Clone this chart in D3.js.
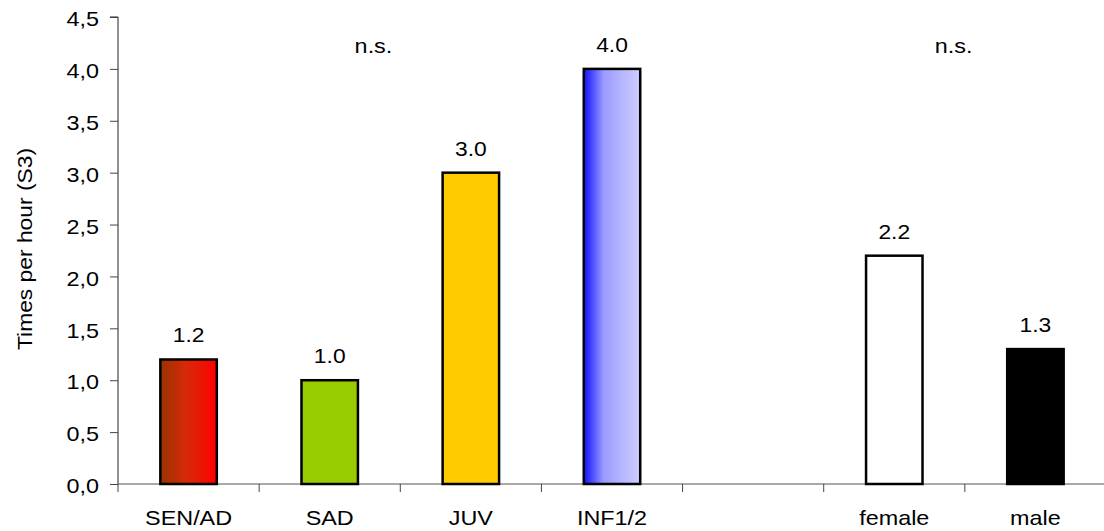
<!DOCTYPE html>
<html><head><meta charset="utf-8">
<script src="https://cdn.jsdelivr.net/npm/d3@7"></script>
<style>body{margin:0;background:#fff}svg{display:block;font-family:Arial,"Liberation Sans",sans-serif}</style>
</head><body><svg id="c" width="1104" height="531"></svg>
<script>
const categories = ["SEN/AD","SAD","JUV","INF1/2","","female","male"];
const values = [1.2, 1.0, 3.0, 4.0, null, 2.2, 1.3];
const valueLabels = ["1.2","1.0","3.0","4.0","","2.2","1.3"];
const yTicks = [0,0.5,1,1.5,2,2.5,3,3.5,4,4.5];
const notes = ["n.s.","n.s."];

const FONT = "Arial, 'Liberation Sans', sans-serif";
const SX = 1.17; // horizontal stretch of the original text
const svg = d3.select("#c");
const m = {left:118, top:17, bottom:484, right:1106};
const x = d3.scaleBand().domain(categories.map((d,i)=>i)).range([m.left, m.right]).paddingInner(0).paddingOuter(0);
const y = d3.scaleLinear().domain([0,4.5]).range([m.bottom, m.top]);

const defs = svg.append("defs");
function grad(id, stops){
  const g = defs.append("linearGradient").attr("id",id).attr("x1","0%").attr("x2","100%").attr("y1","0%").attr("y2","0%");
  stops.forEach(s=>g.append("stop").attr("offset",s[0]).attr("stop-color",s[1]));
}
grad("gRed",[[0,"#993300"],[0.45,"#d62a08"],[1,"#ff0000"]]);
grad("gBlue",[[0,"#1010ff"],[0.35,"#9a9aff"],[0.7,"#b8b8ff"],[1,"#ccccff"]]);
const fills = ["url(#gRed)","#99cc00","#ffcc00","url(#gBlue)","none","#ffffff","#000000"];

function stretched(sel, px, py, rot){
  sel.attr("x",0).attr("y",0)
     .attr("transform",(d,i)=>`translate(${px(d,i)},${py(d,i)})${rot?" rotate("+rot+")":""} scale(${SX},1)`);
}

// y axis
const yAxis = d3.axisLeft(y).tickValues(yTicks).tickSize(8).tickPadding(0)
  .tickFormat(d=>d3.format(".1f")(d).replace(".",","));
const ga = svg.append("g").attr("transform",`translate(${m.left},0)`).call(yAxis);
ga.select(".domain").attr("stroke","#222").attr("d",`M-8,${m.top}H0V${m.bottom}`);
ga.selectAll(".tick line").attr("stroke","#444");
ga.selectAll(".tick text").attr("font-size",20).attr("fill","#000").attr("font-family",FONT)
  .attr("x",0).attr("dy",0).attr("transform",`translate(-19,8.7) scale(${SX},1)`);

// x axis
const xAxis = d3.axisBottom(x).tickSize(0).tickPadding(0).tickFormat(i=>categories[i]);
const gx = svg.append("g").attr("transform",`translate(0,${m.bottom})`).call(xAxis);
gx.select(".domain").attr("stroke","#555").attr("d",`M${m.left},0H${m.right}`);
gx.selectAll(".tick text").attr("font-size",20).attr("fill","#000").attr("font-family",FONT)
  .attr("y",0).attr("dy",0).attr("transform",`translate(0,41) scale(${SX},1)`);
const bounds = categories.map((d,i)=>x(i)).concat([x(categories.length-1)+x.bandwidth()]);
svg.append("g").selectAll("line").data(bounds).join("line")
  .attr("x1",d=>d).attr("x2",d=>d).attr("y1",m.bottom).attr("y2",m.bottom+8)
  .attr("stroke","#444");

// bars
const bw = x.bandwidth()*0.40;
const idx = values.map((v,i)=>i).filter(i=>values[i]!==null);
svg.append("g").selectAll("rect").data(idx).join("rect")
  .attr("x",i=>x(i)+(x.bandwidth()-bw)/2)
  .attr("y",i=>y(values[i]))
  .attr("width",bw)
  .attr("height",i=>y(0)-y(values[i]))
  .attr("fill",i=>fills[i])
  .attr("stroke","#000").attr("stroke-width",2.5);

// value labels
svg.append("g").selectAll("text").data(idx).join("text")
  .attr("text-anchor","middle").attr("font-size",19.5).attr("fill","#000")
  .text(i=>valueLabels[i])
  .call(stretched, i=>x(i)+x.bandwidth()/2, i=>y(values[i])-17);

// n.s. annotations
const noteX = [x(1)+x.bandwidth()*0.81, x(5)+x.bandwidth()*0.92];
svg.append("g").selectAll("text").data(notes).join("text")
  .attr("text-anchor","middle").attr("font-size",20).attr("fill","#000")
  .text(d=>d)
  .call(stretched, (d,i)=>noteX[i], ()=>y(4.5)+36);

// y title
svg.append("text").datum(0)
  .attr("text-anchor","middle").attr("font-size",19.5).attr("fill","#000")
  .text("Times per hour (S3)")
  .call(stretched, ()=>32, ()=>249, -90);
</script></body></html>
